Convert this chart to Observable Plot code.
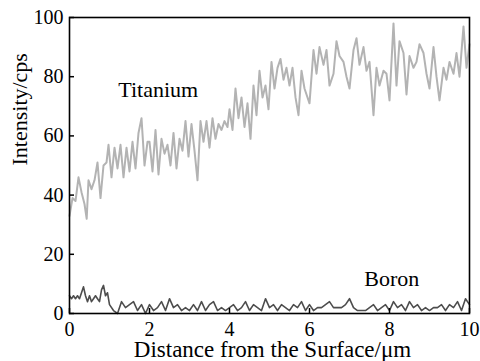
<!DOCTYPE html>
<html>
<head>
<meta charset="utf-8">
<script src="https://cdn.jsdelivr.net/npm/d3@7"></script>
<script src="https://cdn.jsdelivr.net/npm/@observablehq/plot@0.6"></script>
<style>
  html, body { margin: 0; padding: 0; background: #fff; }
</style>
</head>
<body>
<div id="chart"></div>
<script>
const xTicks = [0, 2, 4, 6, 8, 10];
const yTicks = [0, 20, 40, 60, 80, 100];
const xLabel = "Distance from the Surface/\u03bcm";
const yLabel = "Intensity/cps";

const titaniumX = [0.00,0.075,0.15,0.225,0.30,0.375,0.43,0.475,0.55,0.625,0.70,0.775,0.85,0.925,0.975,1.05,1.125,1.20,1.275,1.35,1.425,1.50,1.575,1.65,1.725,1.80,1.875,1.95,
2.00,2.075,2.15,2.225,2.30,2.375,2.45,2.525,2.60,2.675,2.75,2.825,2.90,2.975,3.05,3.125,3.20,3.275,3.35,3.425,3.50,3.575,3.65,3.725,3.80,3.875,3.95,
4.00,4.075,4.15,4.225,4.30,4.375,4.45,4.525,4.60,4.675,4.75,4.825,4.90,4.975,5.05,5.125,5.20,5.275,5.35,5.425,5.50,5.575,5.65,5.725,5.80,5.875,5.925,
6.00,6.10,6.175,6.25,6.35,6.425,6.50,6.60,6.675,6.75,6.85,6.925,7.00,7.10,7.175,7.25,7.35,7.425,7.50,7.60,7.675,7.75,7.85,7.925,
8.00,8.10,8.175,8.25,8.35,8.425,8.50,8.60,8.675,8.75,8.85,8.925,9.00,9.10,9.175,9.25,9.35,9.425,9.50,9.60,9.675,9.75,9.85,9.925,10.0];
const titaniumY = [33,39,38,46,41,37,32,45,42,45,51,39,50,51,57,46,56,49,57,46,56,48,58,49,61,66,50,58,
58,48,62,47,59,54,57,50,61,49,59,55,65,53,64,55,45,65,58,65,56,66,59,64,62,65,63,
69,62,76,66,73,63,71,59,77,67,82,73,77,69,85,76,83,86,79,83,77,83,73,67,82,76,74,
71,89,81,90,84,89,77,81,92,87,85,80,76,89,93,84,90,82,85,67,83,77,82,81,
72,98,77,92,88,74,87,83,85,91,88,81,76,90,80,72,83,79,85,81,88,80,97,83,91];

const boronX = [0.00,0.05,0.10,0.15,0.20,0.25,0.30,0.35,0.40,0.45,0.50,0.55,0.60,0.65,0.70,0.75,0.80,0.85,0.90,0.95,
1.0,1.1,1.2,1.3,1.4,1.5,1.6,1.7,1.8,1.9,2.0,2.1,2.2,2.3,2.4,2.5,2.6,2.7,2.8,2.9,
3.0,3.1,3.2,3.3,3.4,3.5,3.6,3.7,3.8,3.9,4.0,4.1,4.2,4.3,4.4,4.5,4.6,4.7,4.8,4.9,
5.0,5.1,5.2,5.3,5.4,5.5,5.6,5.7,5.8,5.9,6.0,6.1,6.2,6.3,6.4,6.5,6.6,6.7,6.8,6.9,
7.0,7.1,7.2,7.3,7.4,7.5,7.6,7.7,7.8,7.9,8.0,8.1,8.2,8.3,8.4,8.5,8.6,8.7,8.8,8.9,
9.0,9.1,9.2,9.3,9.4,9.5,9.6,9.7,9.8,9.9,10.0];
const boronY = [6,5,6,5,6,5,7,9,6,4,6,4,5,6,5,4,8,9.5,6,7,
3,1,0,4,2,3,4,1,3,0,3,1,2,4,1,5,2,3,1,2,
1,3,1,4,1,3,4,1,2,1,2,3,1,2,4,1,3,2,1,5,
2,3,1,3,2,1,3,2,4,1,3,1,2,2,3,4,2,2,2,3,
5,2,1,1,1,2,3,1,2,3,1,4,2,3,1,4,2,3,1,2,
1,2,2,3,1,3,2,4,1,5,3];

const seriesNames = ["Titanium", "Boron"];
const labelX = [1.22, 7.37];
const labelY = [73, 9.4];

const titanium = titaniumX.map((x, i) => ({x, y: titaniumY[i]}));
const boron = boronX.map((x, i) => ({x, y: boronY[i]}));
const labels = seriesNames.map((name, i) => ({name, x: labelX[i], y: labelY[i]}));

const serif = "Liberation Serif";
const chart = Plot.plot({
  width: 480,
  height: 361,
  marginLeft: 69,
  marginRight: 11,
  marginTop: 17,
  marginBottom: 48,
  style: {fontFamily: serif, background: "#fff", color: "#000"},
  x: {domain: [0, 10]},
  y: {domain: [0, 100]},
  marks: [
    Plot.line(titanium, {x: "x", y: "y", stroke: "#b3b3b3", strokeWidth: 2}),
    Plot.line(boron, {x: "x", y: "y", stroke: "#4d4d4d", strokeWidth: 1.6}),
    Plot.frame({stroke: "#000", strokeWidth: 1.6}),
    Plot.tickX(xTicks, {x: d => d, insetTop: 291, stroke: "#000", strokeWidth: 1.5}),
    Plot.tickY(yTicks, {y: d => d, insetRight: 395, stroke: "#000", strokeWidth: 1.5}),
    Plot.axisX({ticks: xTicks, tickSize: 0, tickPadding: 8, label: null, fontSize: 20, fontFamily: serif, fill: "#000"}),
    Plot.axisY({ticks: yTicks, tickSize: 0, tickPadding: 6, label: null, fontSize: 20, fontFamily: serif, fill: "#000"}),
    Plot.text(labels, {x: "x", y: "y", text: "name", textAnchor: "start", lineAnchor: "bottom", fontSize: 22, fontFamily: serif, fill: "#000"}),
    Plot.text([xLabel], {frameAnchor: "bottom", dx: 3, dy: 43, lineAnchor: "bottom", fontSize: 23, fontFamily: serif, fill: "#000"}),
    Plot.text([yLabel], {frameAnchor: "left", dx: -43, rotate: -90, lineAnchor: "bottom", fontSize: 22, fontFamily: serif, fill: "#000"})
  ]
});
document.getElementById("chart").appendChild(chart);
</script>
</body>
</html>
